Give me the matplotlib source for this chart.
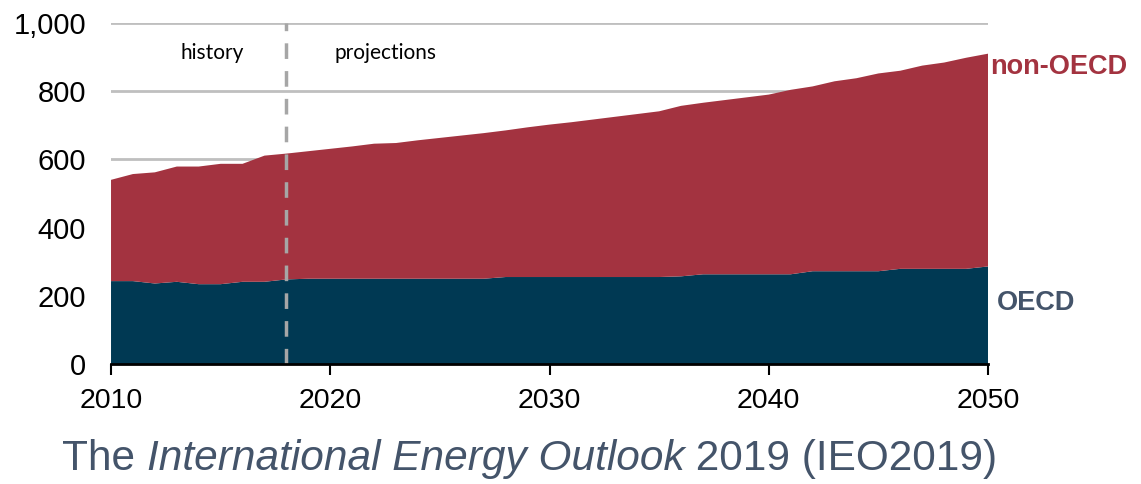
import matplotlib
matplotlib.use('Agg')
import matplotlib.pyplot as plt
import numpy as np

# Data (units as shown on the axis)
years = list(range(2010, 2051))
oecd = [243, 243, 236, 241, 234, 234, 241, 241, 248, 250,
        250, 250, 250, 250, 250, 250, 250, 250, 255, 255,
        255, 255, 255, 255, 255, 255, 257, 263, 263, 263,
        263, 263, 272, 272, 272, 272, 279, 279, 279, 279,
        286]
total = [540, 557, 562, 579, 579, 587, 587, 611, 617, 624,
         631, 638, 646, 648, 656, 663, 670, 677, 685, 694,
         702, 709, 717, 725, 733, 741, 757, 766, 774, 782,
         790, 804, 814, 829, 838, 852, 860, 875, 884, 898,
         910]
non_oecd = [t - o for t, o in zip(total, oecd)]
x_ticks = [2010, 2020, 2030, 2040, 2050]
y_ticks = [0, 200, 400, 600, 800, 1000]
y_tick_labels = ['0', '200', '400', '600', '800', '1,000']

navy = '#003953'
red = '#A33340'
slate = '#44546A'

plt.rcParams['font.family'] = ['Liberation Sans', 'DejaVu Sans']

fig = plt.figure(figsize=(11.41, 4.84), dpi=100)
ax = fig.add_axes([0.0973, 0.248, 0.7686, 0.7045])

for y in y_ticks[1:]:
    ax.axhline(y, color='#BFBFBF', lw=2, zorder=0)

ax.stackplot(years, oecd, non_oecd, colors=[navy, red], zorder=1)

ax.axvline(2018, ymin=0, ymax=1, color='#A6A6A6', lw=2.5, ls=(0, (4.5, 3.5)), zorder=3)

ax.set_xlim(2010, 2050)
ax.set_ylim(0, 1000)
ax.set_xticks(x_ticks)
ax.set_xticklabels([str(x) for x in x_ticks], fontsize=20.5)
ax.set_yticks(y_ticks)
ax.set_yticklabels(y_tick_labels, fontsize=21)
ax.tick_params(axis='y', length=0, pad=18)
ax.tick_params(axis='x', length=8, width=1.5, direction='out', pad=9)
for s in ['top', 'right', 'left']:
    ax.spines[s].set_visible(False)
ax.spines['bottom'].set_linewidth(2)
ax.spines['bottom'].set_zorder(4)

ax.text(2014.6, 912, 'history', fontsize=15, family=['Lato', 'DejaVu Sans'], ha='center', va='center')
ax.text(2022.5, 912, 'projections', fontsize=15, family=['Lato', 'DejaVu Sans'], ha='center', va='center')

ax.text(1.002, 0.872, 'non-OECD', transform=ax.transAxes, color=red, fontsize=19.5,
        fontweight='bold', ha='left', va='center')
ax.text(1.01, 0.18, 'OECD', transform=ax.transAxes, color=slate, fontsize=19.5,
        fontweight='bold', ha='left', va='center')

# Title with mixed italic
parts = [('The ', 'normal'), ('International Energy Outlook', 'italic'), (' 2019 (IEO2019)', 'normal')]
fig.canvas.draw()
renderer = fig.canvas.get_renderer()
x = 62 / 1141
for txt, style in parts:
    t = fig.text(x, 1 - 459 / 484, txt, fontsize=30.5, color=slate, fontstyle=style,
                 ha='left', va='center')
    bb = t.get_window_extent(renderer)
    x += bb.width / fig.bbox.width

fig.savefig('out.png', dpi=100)
